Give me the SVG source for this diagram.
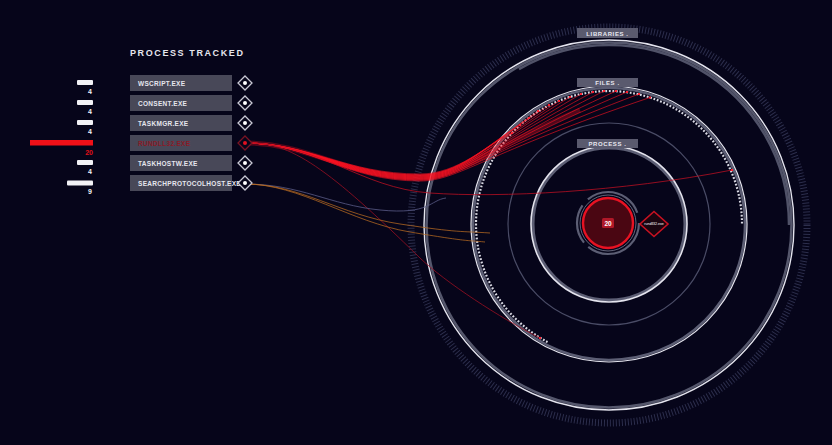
<svg xmlns="http://www.w3.org/2000/svg" width="832" height="445" viewBox="0 0 832 445">
<defs>
<style>
.t{font-family:"Liberation Sans",Arial,sans-serif;font-weight:bold;fill:#e6e6ee}
.box{fill:#484858}
.dia{fill:#06051a;stroke:#c8c8d4;stroke-width:1.3}
.dot{fill:#ffffff}
.bar{fill:#f2f2f6}
.num{font-family:"Liberation Sans",Arial,sans-serif;font-weight:bold;font-size:7px;fill:#f2f2f6;text-anchor:end}
.lbl{fill:#5a5a6e}
.lt{font-family:"Liberation Sans",Arial,sans-serif;font-weight:bold;font-size:6px;fill:#e8e8f0;text-anchor:middle;letter-spacing:0.6px}
.rb{fill:none;stroke:#ff1222;stroke-width:1;opacity:0.6}
.ro{fill:none;stroke:#c07022;stroke-width:0.8;opacity:0.9}
</style>
</defs>
<rect width="832" height="445" fill="#06051a"/>

<g id="rings">
<circle cx="609" cy="225" r="198" fill="none" stroke="#2c2e4c" stroke-width="7" stroke-dasharray="1 2"/>
<circle cx="609" cy="225" r="182.5" fill="none" stroke="#55576c" stroke-width="2.6"/>
<circle cx="609" cy="225" r="185" fill="none" stroke="#e4e4ee" stroke-width="1.4"/>
<path d="M519,69.1 A180,180 0 0 1 789,225" fill="none" stroke="#505268" stroke-width="2.5"/>
<circle cx="609" cy="224" r="136" fill="none" stroke="#5c5e74" stroke-width="2.5"/>
<circle cx="609" cy="224" r="138" fill="none" stroke="#e4e4ee" stroke-width="1.2"/>
<path d="M547.6,342 A133,133 0 1 1 742,224" fill="none" stroke="#d8d8e2" stroke-width="2.2" stroke-dasharray="1.8 1.7"/>
<circle cx="609" cy="224" r="101" fill="none" stroke="#4a4c66" stroke-width="1.2"/>
<circle cx="609" cy="224" r="76" fill="none" stroke="#5c5e74" stroke-width="3"/>
<circle cx="609" cy="224" r="78" fill="none" stroke="#e4e4ee" stroke-width="1.6"/>
</g>

<g id="label-libraries"><rect class="lbl" x="577" y="28" width="61" height="10"/><text class="lt" x="607.5" y="35.5">LIBRARIES .</text></g>
<g id="label-files"><rect class="lbl" x="577" y="78" width="61" height="9"/><text class="lt" x="607.5" y="85">FILES .</text></g>
<g id="label-process"><rect class="lbl" x="577" y="139" width="61" height="9"/><text class="lt" x="607.5" y="146">PROCESS .</text></g>

<g id="connectors">
<path d="M245,143 C310,143 345,177 420,177 C458,177 485,150 580,110" fill="none" stroke="#ff1222" stroke-width="5" opacity="0.3"/>
<path class="rb" d="M245,143 C310,143 345,174 420,174 C458,174 485,146 512,133"/>
<path class="rb" d="M245,143 C310,143 345,175 420,175 C458,175 485,147 520,125"/>
<path class="rb" d="M245,143 C310,143 345,175 420,175 C458,175 485,147 529,118"/>
<path class="rb" d="M245,143 C310,143 345,176 420,176 C458,176 485,148 538,111"/>
<path class="rb" d="M245,143 C310,143 345,176 420,176 C458,176 485,148 549,105"/>
<path class="rb" d="M245,143 C310,143 345,177 420,177 C458,177 485,149 559,101"/>
<path class="rb" d="M245,143 C310,143 345,177 420,177 C458,177 485,149 570,97"/>
<path class="rb" d="M245,143 C310,143 345,178 420,178 C458,178 485,150 581,94"/>
<path class="rb" d="M245,143 C310,143 345,178 420,178 C458,178 485,150 593,92"/>
<path class="rb" d="M245,143 C310,143 345,179 420,179 C458,179 485,151 604,91"/>
<path class="rb" d="M245,143 C310,143 345,179 420,179 C458,179 485,151 616,91"/>
<path class="rb" d="M245,143 C310,143 345,180 420,180 C458,180 485,152 627,92"/>
<path class="rb" d="M245,143 C310,143 345,180 420,180 C458,180 485,152 639,94"/>
<path class="rb" d="M245,143 C310,143 345,181 420,181 C458,181 485,153 650,97.5"/>
<path d="M245,143 C320,143 360,188 430,193 S620,192 732,170" fill="none" stroke="#c01022" stroke-width="0.9" opacity="0.85"/>
<path d="M245,143 C290,140 330,170 420,258 C445,282 500,318 540,338" fill="none" stroke="#a01022" stroke-width="0.9" opacity="0.85"/>
<path d="M245,184 C300,184 330,205 380,210 S430,200 446,198" fill="none" stroke="#5a5c88" stroke-width="0.8"/>
<path class="ro" d="M245,184 C300,184 340,215 400,224 S460,231 490,233"/>
<path class="ro" d="M245,184 C300,184 350,222 410,232 S465,240 485,242"/>
<g fill="#ff2030">
<rect x="511" y="132" width="2" height="2"/><rect x="519" y="124" width="2" height="2"/><rect x="528" y="117" width="2" height="2"/><rect x="537" y="110" width="2" height="2"/><rect x="548" y="104" width="2" height="2"/><rect x="558" y="100" width="2" height="2"/><rect x="569" y="96" width="2" height="2"/><rect x="580" y="93" width="2" height="2"/><rect x="592" y="91" width="2" height="2"/><rect x="603" y="90" width="2" height="2"/><rect x="615" y="90" width="2" height="2"/><rect x="626" y="91" width="2" height="2"/><rect x="638" y="93" width="2" height="2"/><rect x="649" y="96.5" width="2" height="2"/><rect x="731" y="169" width="2" height="2"/><rect x="539" y="337" width="2" height="2"/>
</g>
</g>

<g id="core">
<circle cx="608" cy="223" r="31" fill="none" stroke="#5c5e74" stroke-width="2.2" stroke-dasharray="70 6 40 8 60 11"/>
<circle cx="608" cy="223" r="28" fill="none" stroke="#8a8ca2" stroke-width="0.7"/>
<circle cx="608" cy="223" r="25" fill="#4a0612" stroke="#e81222" stroke-width="2.4"/>
<rect x="602" y="218" width="12" height="10" rx="1.5" fill="#b01828"/>
<text x="608" y="225.5" font-family="Liberation Sans,Arial,sans-serif" font-weight="bold" font-size="6.5" fill="#ffffff" text-anchor="middle">20</text>
</g>
<g id="core-diamond">
<polygon points="654,211.5 668,224 654,236.5 640,224" fill="#1a0510" stroke="#c81222" stroke-width="1.6"/>
<text x="654" y="225.3" font-family="Liberation Sans,Arial,sans-serif" font-size="3.6" fill="#ffffff" text-anchor="middle">rundll32.exe</text>
</g>

<g id="title"><text class="t" x="130" y="56" font-size="9" letter-spacing="1.6">PROCESS TRACKED</text></g>

<g id="proc-wscript">
<rect class="bar" x="77" y="80" width="16" height="5" rx="1"/><text class="num" x="92" y="94">4</text>
<rect class="box" x="130" y="75" width="102" height="16"/><text class="t" x="138" y="85.5" font-size="6.5" letter-spacing="0.3">WSCRIPT.EXE</text>
<polygon class="dia" points="245,76 252,83 245,90 238,83"/><circle class="dot" cx="245" cy="83" r="2"/>
</g>
<g id="proc-consent">
<rect class="bar" x="77" y="100" width="16" height="5" rx="1"/><text class="num" x="92" y="114">4</text>
<rect class="box" x="130" y="95" width="102" height="16"/><text class="t" x="138" y="105.5" font-size="6.5" letter-spacing="0.3">CONSENT.EXE</text>
<polygon class="dia" points="245,96 252,103 245,110 238,103"/><circle class="dot" cx="245" cy="103" r="2"/>
</g>
<g id="proc-taskmgr">
<rect class="bar" x="77" y="120" width="16" height="5" rx="1"/><text class="num" x="92" y="134">4</text>
<rect class="box" x="130" y="115" width="102" height="16"/><text class="t" x="138" y="125.5" font-size="6.5" letter-spacing="0.3">TASKMGR.EXE</text>
<polygon class="dia" points="245,116 252,123 245,130 238,123"/><circle class="dot" cx="245" cy="123" r="2"/>
</g>
<g id="proc-rundll32">
<rect x="30" y="140" width="63" height="5.5" fill="#f01018"/><text class="num" x="93" y="154.5" style="fill:#e01018">20</text>
<rect class="box" x="130" y="135" width="102" height="16"/><text class="t" x="138" y="145.5" font-size="6.5" letter-spacing="0.3" style="fill:#8a1a26">RUNDLL32.EXE</text>
<polygon points="245,136 252,143 245,150 238,143" fill="#06051a" stroke="#7a1424" stroke-width="1.3"/><circle cx="245" cy="143" r="2" fill="#e01020"/>
</g>
<g id="proc-taskhostw">
<rect class="bar" x="77" y="160" width="16" height="5" rx="1"/><text class="num" x="92" y="174">4</text>
<rect class="box" x="130" y="155" width="102" height="16"/><text class="t" x="138" y="165.5" font-size="6.5" letter-spacing="0.3">TASKHOSTW.EXE</text>
<polygon class="dia" points="245,156 252,163 245,170 238,163"/><circle class="dot" cx="245" cy="163" r="2"/>
</g>
<g id="proc-searchprotocolhost">
<rect class="bar" x="67" y="180.5" width="26" height="5" rx="1"/><text class="num" x="92" y="194">9</text>
<rect class="box" x="130" y="175" width="102" height="16"/><text class="t" x="138" y="185.5" font-size="6.5" letter-spacing="0.3">SEARCHPROTOCOLHOST.EXE</text>
<polygon class="dia" points="245,176 252,183 245,190 238,183"/><circle class="dot" cx="245" cy="183" r="2"/>
</g>
</svg>
